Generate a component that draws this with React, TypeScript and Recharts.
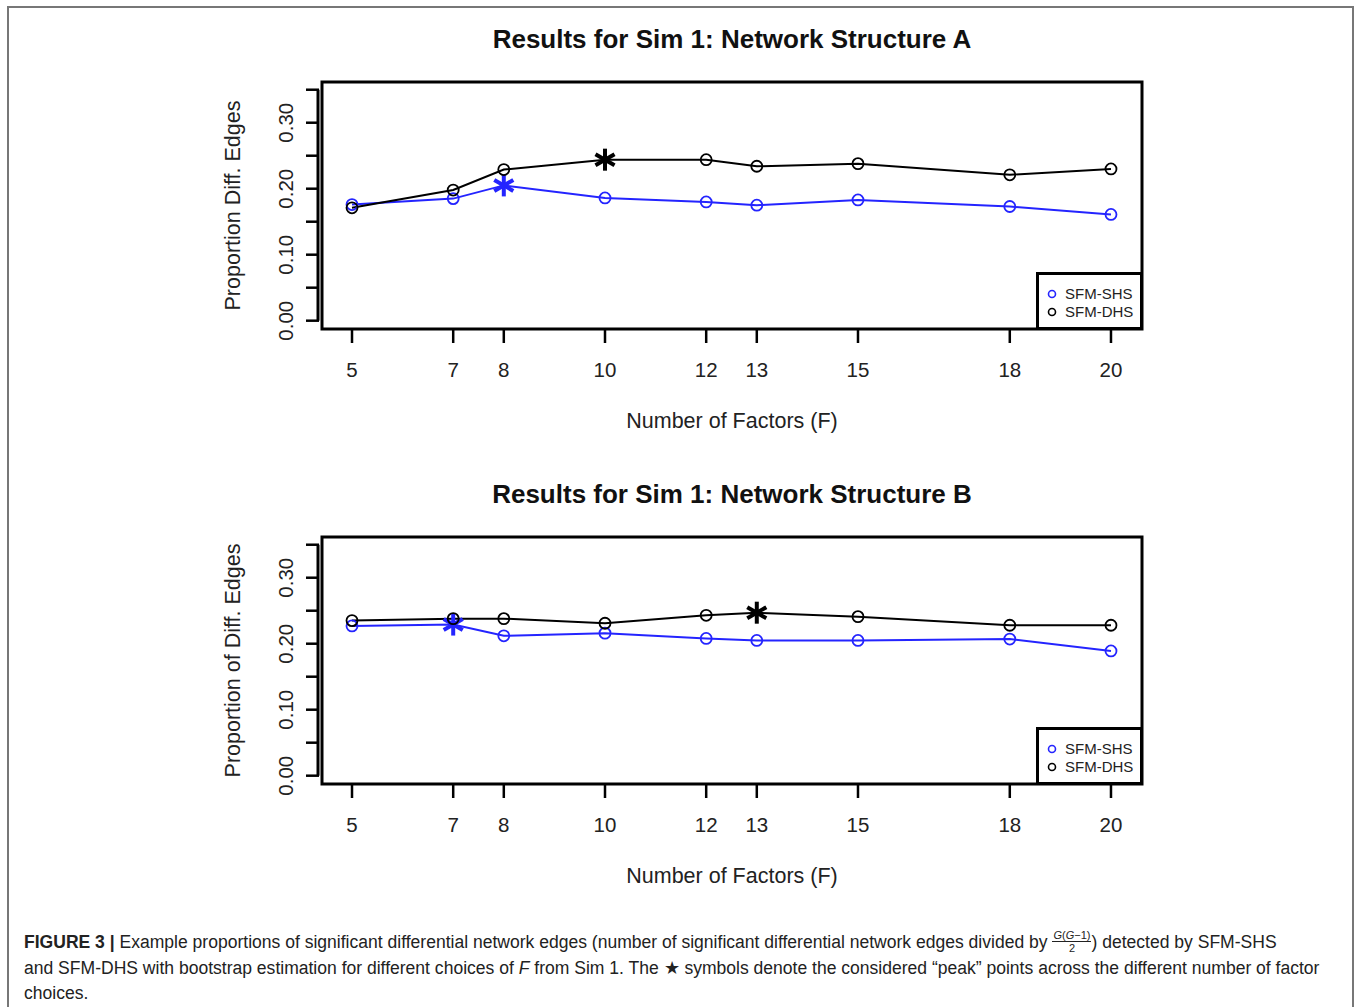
import React from 'react';
import {
  LineChart,
  Line,
  XAxis,
  YAxis,
  ReferenceArea,
  ReferenceLine,
  Legend,
} from 'recharts';

// number of factors tried
const factors = [5, 7, 8, 10, 12, 13, 15, 18, 20];

// Network structure A
const shsA = [0.176, 0.185, 0.205, 0.186, 0.180, 0.175, 0.183, 0.173, 0.161];
const dhsA = [0.171, 0.198, 0.229, 0.244, 0.244, 0.234, 0.238, 0.221, 0.230];
const peaksA = { shs: 8, dhs: 10 };

// Network structure B
const shsB = [0.227, 0.229, 0.212, 0.216, 0.208, 0.205, 0.205, 0.207, 0.189];
const dhsB = [0.235, 0.238, 0.238, 0.231, 0.243, 0.247, 0.241, 0.228, 0.228];
const peaksB = { shs: 7, dhs: 13 };

const yTicks = [0, 0.05, 0.1, 0.15, 0.2, 0.25, 0.3, 0.35];
const seriesOrder = ['SFM-SHS', 'SFM-DHS'];

const X_DOMAIN: [number, number] = [4.407, 20.613];
const Y_DOMAIN: [number, number] = [-0.0126, 0.3617];
const Y_AXIS_X = 4.328;

const FONT = "'Liberation Sans', Arial, Helvetica, sans-serif";
const BLUE = '#2424ff';
const BLACK = '#000';

function Asterisk({ cx, cy, color }: { cx: number; cy: number; color: string }) {
  const r = 11;
  return (
    <g>
      {[90, 30, 150].map((a) => {
        const rad = (a * Math.PI) / 180;
        const dx = r * Math.cos(rad);
        const dy = r * Math.sin(rad);
        return (
          <line
            key={a}
            x1={cx - dx}
            y1={cy - dy}
            x2={cx + dx}
            y2={cy + dy}
            stroke={color}
            strokeWidth={4}
          />
        );
      })}
    </g>
  );
}

const makeDot = (color: string, peak: number) => (props: any) => {
  const { cx, cy, payload, index } = props;
  if (cx == null || cy == null) return <g key={index} />;
  if (payload.f === peak) {
    return <Asterisk key={index} cx={cx} cy={cy} color={color} />;
  }
  return (
    <circle
      key={index}
      cx={cx}
      cy={cy}
      r={5.5}
      fill="none"
      stroke={color}
      strokeWidth={1.8}
    />
  );
};

const XTick = (props: any) => {
  const { x, y, payload } = props;
  return (
    <g>
      <line x1={x} y1={y} x2={x} y2={y + 14} stroke={BLACK} strokeWidth={2.5} />
      <text
        x={x}
        y={y + 40}
        textAnchor="middle"
        dominantBaseline="central"
        fontFamily={FONT}
        fontSize={20.5}
        fill="#222"
      >
        {payload.value}
      </text>
    </g>
  );
};

const YTick = (props: any) => {
  const { x, y, payload } = props;
  const v = payload.value as number;
  const labelled = Math.abs(Math.round(v * 10) - v * 10) < 1e-6;
  return (
    <g>
      <line x1={x - 16} y1={y} x2={x - 3} y2={y} stroke={BLACK} strokeWidth={2.5} />
      {labelled && (
        <text
          x={x - 36}
          y={y}
          transform={`rotate(-90, ${x - 36}, ${y})`}
          textAnchor="middle"
          dominantBaseline="central"
          fontFamily={FONT}
          fontSize={20.5}
          fill="#222"
        >
          {v.toFixed(2)}
        </text>
      )}
    </g>
  );
};

const XTitle = ({ viewBox, text }: any) => (
  <text
    x={viewBox.x + viewBox.width / 2}
    y={viewBox.y + 92}
    textAnchor="middle"
    dominantBaseline="central"
    fontFamily={FONT}
    fontSize={21.5}
    fill="#222"
  >
    {text}
  </text>
);

const YTitle = ({ viewBox, text }: any) => {
  const x = viewBox.x + viewBox.width - 89;
  const y = viewBox.y + viewBox.height / 2;
  return (
    <text
      x={x}
      y={y}
      transform={`rotate(-90, ${x}, ${y})`}
      textAnchor="middle"
      dominantBaseline="central"
      fontFamily={FONT}
      fontSize={21.5}
      fill="#222"
    >
      {text}
    </text>
  );
};

const ChartTitle = ({ viewBox, text }: any) => (
  <text
    x={viewBox.x + viewBox.width / 2}
    y={viewBox.y - 43}
    textAnchor="middle"
    dominantBaseline="central"
    fontFamily={FONT}
    fontSize={26}
    fontWeight="bold"
    fill="#111"
  >
    {text}
  </text>
);

const LegendBox = ({ payload }: any) => {
  const items = [...(payload || [])].sort(
    (a: any, b: any) => seriesOrder.indexOf(a.value) - seriesOrder.indexOf(b.value)
  );
  return (
    <div
      style={{
        boxSizing: 'border-box',
        width: 107,
        height: 58,
        border: '3px solid #000',
        background: '#fff',
        padding: '10px 0 0 8px',
        fontFamily: FONT,
        fontSize: 15,
        color: '#222',
      }}
    >
      {items.map((entry: any) => (
        <div
          key={entry.value}
          style={{ display: 'flex', alignItems: 'center', height: 18, lineHeight: '18px' }}
        >
          <svg width={10} height={10} style={{ display: 'block' }}>
            <circle cx={5} cy={5} r={3.5} fill="none" stroke={entry.color} strokeWidth={1.6} />
          </svg>
          <span style={{ marginLeft: 8 }}>{entry.value}</span>
        </div>
      ))}
    </div>
  );
};

interface PanelProps {
  top: number;
  title: string;
  yLabel: string;
  shs: number[];
  dhs: number[];
  peaks: { shs: number; dhs: number };
}

function Panel({ top, title, yLabel, shs, dhs, peaks }: PanelProps) {
  const data = factors.map((f, i) => ({ f, shs: shs[i], dhs: dhs[i] }));
  return (
    <div style={{ position: 'absolute', left: 0, top, width: 1356, height: 455 }}>
      <LineChart
        width={1356}
        height={455}
        data={data}
        margin={{ top: 82, right: 214, bottom: 0, left: 0 }}
      >
        <XAxis
          dataKey="f"
          type="number"
          domain={X_DOMAIN}
          ticks={factors}
          allowDataOverflow
          interval={0}
          axisLine={false}
          tickLine={false}
          tickSize={0}
          tickMargin={0}
          height={126}
          tick={<XTick />}
          label={<XTitle text="Number of Factors (F)" />}
        />
        <YAxis
          type="number"
          domain={Y_DOMAIN}
          ticks={yTicks}
          allowDataOverflow
          interval={0}
          axisLine={false}
          tickLine={false}
          tickSize={0}
          tickMargin={0}
          width={322}
          tick={<YTick />}
          label={<YTitle text={yLabel} />}
        />
        <ReferenceLine
          segment={[
            { x: Y_AXIS_X, y: 0 },
            { x: Y_AXIS_X, y: 0.35 },
          ]}
          stroke={BLACK}
          strokeWidth={3}
          ifOverflow="visible"
        />
        <Line
          dataKey="shs"
          name="SFM-SHS"
          stroke={BLUE}
          strokeWidth={2}
          dot={makeDot(BLUE, peaks.shs)}
          activeDot={false}
          isAnimationActive={false}
        />
        <Line
          dataKey="dhs"
          name="SFM-DHS"
          stroke={BLACK}
          strokeWidth={2}
          dot={makeDot(BLACK, peaks.dhs)}
          activeDot={false}
          isAnimationActive={false}
        />
        <ReferenceArea
          x1={X_DOMAIN[0]}
          x2={X_DOMAIN[1]}
          y1={Y_DOMAIN[0]}
          y2={Y_DOMAIN[1]}
          fill="none"
          fillOpacity={0}
          stroke={BLACK}
          strokeWidth={3}
          ifOverflow="visible"
          label={<ChartTitle text={title} />}
        />
        <Legend
          layout="vertical"
          align="center"
          verticalAlign="middle"
          content={<LegendBox />}
          wrapperStyle={{ left: 1036, top: 272, width: 107, height: 58 }}
        />
      </LineChart>
    </div>
  );
}

export default function App() {
  return (
    <div
      style={{
        position: 'absolute',
        left: 0,
        top: 0,
        width: 1356,
        height: 1007,
        overflow: 'hidden',
        background: '#fff',
      }}
    >
      <div
        style={{
          position: 'absolute',
          left: 7,
          top: 6,
          width: 1347,
          height: 1020,
          boxSizing: 'border-box',
          border: '2px solid #777',
        }}
      />
      <Panel
        top={0}
        title="Results for Sim 1: Network Structure A"
        yLabel="Proportion Diff. Edges"
        shs={shsA}
        dhs={dhsA}
        peaks={peaksA}
      />
      <Panel
        top={455}
        title="Results for Sim 1: Network Structure B"
        yLabel="Proportion of Diff. Edges"
        shs={shsB}
        dhs={dhsB}
        peaks={peaksB}
      />
      <div
        style={{
          position: 'absolute',
          left: 24,
          top: 930,
          fontFamily: FONT,
          fontSize: 17.55,
          lineHeight: '25px',
          color: '#222',
          whiteSpace: 'nowrap',
        }}
      >
        <div>
          <b>FIGURE 3 |</b> Example proportions of significant differential network edges
          (number of significant differential network edges divided by{' '}
          <span
            style={{
              display: 'inline-flex',
              flexDirection: 'column',
              alignItems: 'center',
              verticalAlign: 'middle',
              fontSize: 11,
              lineHeight: '12px',
              position: 'relative',
              top: -2,
            }}
          >
            <span style={{ borderBottom: '1px solid #222', padding: '0 1px' }}>
              <i>G</i>(<i>G</i>−1)
            </span>
            <span>2</span>
          </span>
          ) detected by SFM-SHS
        </div>
        <div>
          and SFM-DHS with bootstrap estimation for different choices of <i>F</i> from Sim 1.
          The ★ symbols denote the considered “peak” points across the different number of
          factor
        </div>
        <div>choices.</div>
      </div>
    </div>
  );
}
